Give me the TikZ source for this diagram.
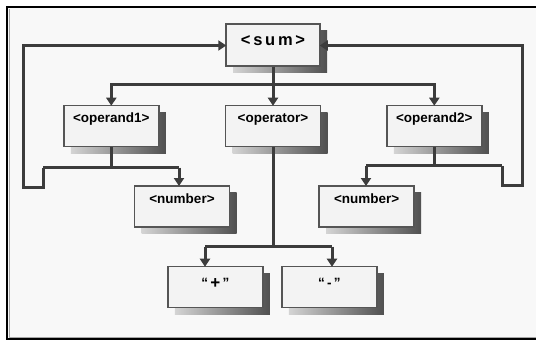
\documentclass[tikz,border=0pt]{standalone}
\usepackage{fontspec}
\setmainfont{Liberation Sans}
\usetikzlibrary{arrows.meta,shadows}
\definecolor{bg}{HTML}{F8F8F8}
\definecolor{boxfill}{HTML}{F3F3F3}
\definecolor{boxline}{HTML}{555555}
\definecolor{conncol}{HTML}{3C3C3C}
\definecolor{shlight}{HTML}{D4D4D4}
\definecolor{shdark}{HTML}{505050}
\tikzset{
  gbox/.style={draw=boxline, line width=1.5pt, fill=boxfill, minimum width=95pt,
    inner sep=0pt, text height=17.5pt, text depth=23.5pt,
    font=\fontsize{13.5pt}{14pt}\selectfont\bfseries,
    general shadow={shadow xshift=7pt, shadow yshift=-7pt, left color=shlight, right color=shdark}},
  conn/.style={draw=conncol, line width=3pt},
  arr/.style={conn, -{Triangle[length=8pt,width=10pt]}, shorten >=-1pt}
}
\begin{document}
\begin{tikzpicture}[x=1pt,y=-1pt]
\useasboundingbox (0,0) rectangle (536,347);
\fill[white] (0,0) rectangle (536,347);
\fill[bg] (7,7) rectangle (540,339);
\draw[black, line width=2pt] (545,7) -- (7,7) -- (7,339) -- (545,339);
\draw[gray!70, line width=0.8pt] (9,9) -- (9,337) -- (545,337);

\node[gbox, minimum width=94pt, text height=22pt, text depth=20pt, font=\fontsize{16.5pt}{17pt}\selectfont\bfseries] (sum) at (273,45) {<\,s\,u\,m\,>};
\node[gbox] (op1) at (111.3,126) {<operand1>};
\node[gbox] (oper) at (273,126) {<operator>};
\node[gbox] (op2) at (434.3,126) {<operand2>};
\node[gbox] (num1) at (182,206.3) {<number>};
\node[gbox] (num2) at (366.7,206.3) {<number>};
\node[gbox, text height=21pt, text depth=20pt] (plus) at (215.3,287) {“\,\raisebox{-1.5pt}{\fontsize{17pt}{17pt}\selectfont +}\,”};
\node[gbox, text height=21pt, text depth=20pt] (minus) at (329.3,287) {“\,-\,”};

% sum to level 1
\coordinate (j0) at (273,85);
\draw[conn] (sum.south) -- (j0);
\draw[arr] (j0) -| (op1.north);
\draw[arr] (j0) -| (op2.north);
\draw[arr] (j0) -- (oper.north);

% operand1
\coordinate (j1) at (111.3,167.7);
\coordinate (a1) at (179,167.7);
\coordinate (l1) at (43,167.7);
\draw[conn] (op1.south) -- (j1);
\draw[conn] (l1) -- (a1);
\draw[arr] (a1) -- (a1 |- num1.north);
\draw[arr] (l1) -- (43,188) -- (23,188) -- (23,45.5) -- (sum.west |- 0,45.5);

% operand2
\coordinate (j2) at (434.3,166);
\coordinate (a2) at (366,166);
\coordinate (r2) at (502,166);
\draw[conn] (op2.south) -- (j2);
\draw[conn] (a2) -- (r2);
\draw[arr] (a2) -- (a2 |- num2.north);
\draw[arr] (r2) -- (502,186) -- (522,186) -- (522,45.5) -- (sum.east |- 0,45.5);

% operator
\coordinate (j3) at (273,246.7);
\coordinate (a3) at (205,246.7);
\coordinate (b3) at (332,246.7);
\draw[conn] (oper.south) -- (j3);
\draw[conn] (a3) -- (b3);
\draw[arr] (a3) -- (a3 |- plus.north);
\draw[arr] (b3) -- (b3 |- minus.north);
\end{tikzpicture}
\end{document}
